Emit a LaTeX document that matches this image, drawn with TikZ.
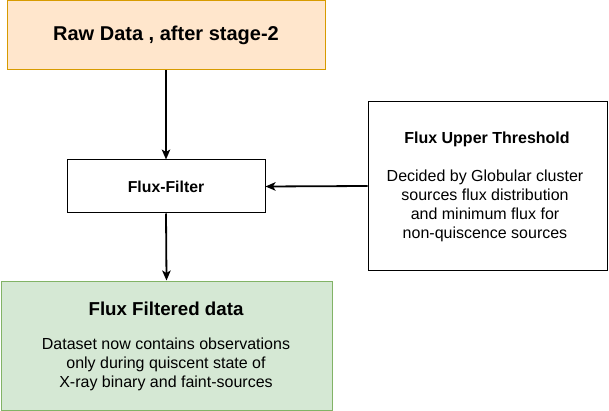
\documentclass[tikz,border=0pt]{standalone}
\usepackage{fontspec}
\setmainfont{Liberation Sans}
\usetikzlibrary{arrows.meta}
\definecolor{rawfill}{HTML}{FFE6CC}
\definecolor{rawline}{HTML}{D79B00}
\definecolor{outfill}{HTML}{D5E8D4}
\definecolor{outline}{HTML}{82B366}
\begin{document}
\begin{tikzpicture}[x=1pt, y=-1pt,
    box/.style={draw, line width=1pt, rectangle, inner sep=0pt},
    flow/.style={line width=1.8pt, -{Stealth[length=10pt,width=8.5pt,inset=2.5pt]}},
    body/.style={align=center, font=\fontsize{16}{19}\selectfont}]
    \useasboundingbox (0,0) rectangle (609,411);

    % Input data
    \node[box, draw=rawline, fill=rawfill, minimum width=318pt, minimum height=69pt,
      font=\fontsize{20}{24}\selectfont\bfseries]
      (raw) at (166,35.5) {Raw Data , after stage-2};

    % Filter step
    \node[box, fill=white, minimum width=198pt, minimum height=53pt,
      font=\fontsize{15.8}{18}\selectfont\bfseries]
      (filter) at (166,186.5) {Flux-Filter};

    % Threshold criterion
    \node[box, fill=white, minimum width=239pt, minimum height=168pt]
      (thresh) at (487.5,186) {};
    \node[font=\fontsize{16}{19}\selectfont\bfseries] (threshtitle) at (487,139.5) {Flux Upper Threshold};
    \node[body] (threshtext) at (485,206)
      {Decided by Globular cluster\\ sources flux distribution\\ and minimum flux for\\ non-quiscence sources};

    % Output data
    \node[box, draw=outline, fill=outfill, minimum width=331pt, minimum height=129pt]
      (out) at (166.5,345.5) {};
    \node[font=\fontsize{18.7}{22}\selectfont\bfseries] (outtitle) at (166,309) {Flux Filtered data};
    \node[body] (outtext) at (166,364)
      {Dataset now contains observations\\ only during quiscent state of\\ X-ray binary and faint-sources};

    % Connectors
    \draw[flow] (raw.south) -- (filter.north);
    \draw[flow] (thresh.west) -- (filter.east);
    \draw[flow] (filter.south) -- (out.north);
  \end{tikzpicture}
\end{document}
